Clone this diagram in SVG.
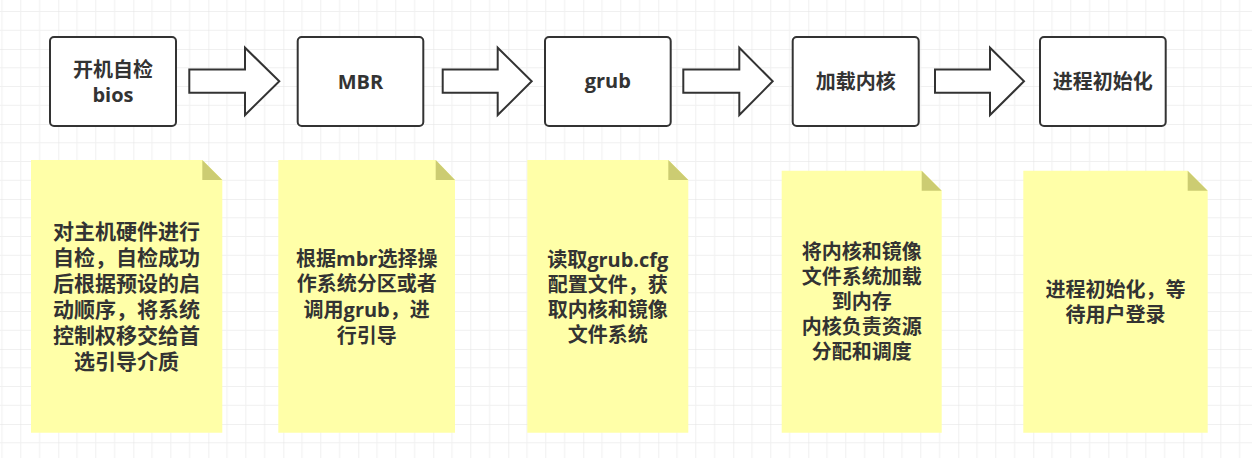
<svg xmlns="http://www.w3.org/2000/svg" width="1252" height="458" viewBox="0 0 1252 458">
<defs>
<pattern id="grid" patternUnits="userSpaceOnUse" x="58.3" y="49" width="75" height="75">
<path d="M18.75 0V75M37.5 0V75M56.25 0V75M0 18.75H75M0 37.5H75M0 56.25H75" stroke="#f0f0f0" stroke-width="1" fill="none"/>
<path d="M0 0V75M0 0H75" stroke="#e2e2e2" stroke-width="1" fill="none"/>
</pattern>
</defs>
<style>
.box{fill:#fff;stroke:#333;stroke-width:2}
.arr{fill:#fff;stroke:#333;stroke-width:2;stroke-linejoin:miter}
.note{fill:#ffffa8}
.fold{fill:#cccc72}
text{font-family:"Open Sans","Noto Sans CJK SC",sans-serif;font-weight:bold;fill:#333;text-anchor:middle}
.t{font-size:20px}
.n1{font-size:21px}
</style>
<rect width="1252" height="458" fill="#fff"/>
<rect width="1252" height="458" fill="url(#grid)"/>
<g id="connectors">
<polygon class="arr" points="189.3,69.5 245,69.5 245,47.7 279.3,81.3 245,115 245,92.7 189.3,92.7"/>
<polygon class="arr" points="442.7,69.5 497.7,69.5 497.7,47.7 531.7,81.3 497.7,115 497.7,92.7 442.7,92.7"/>
<polygon class="arr" points="683.3,69.5 739.3,69.5 739.3,47.7 772.7,81.3 739.3,115 739.3,92.7 683.3,92.7"/>
<polygon class="arr" points="935,69.5 990,69.5 990,47.7 1024,81.3 990,115 990,92.7 935,92.7"/>
</g>
<g id="node-bios">
<rect class="box" x="50" y="37" width="126" height="89" rx="4"/>
<text class="t" x="113"><tspan x="113" y="76.5">开机自检</tspan><tspan x="113" y="101.5">bios</tspan></text>
</g>
<g id="node-mbr">
<rect class="box" x="297.7" y="37" width="125.6" height="89" rx="4"/>
<text class="t" x="360.5" y="89">MBR</text>
</g>
<g id="node-grub">
<rect class="box" x="545" y="37" width="125.7" height="89" rx="4"/>
<text class="t" x="607.8" y="88">grub</text>
</g>
<g id="node-kernel">
<rect class="box" x="792.7" y="37" width="126" height="89" rx="4"/>
<text class="t" x="855.7" y="89">加载内核</text>
</g>
<g id="node-init">
<rect class="box" x="1040" y="37" width="125.7" height="89" rx="4"/>
<text class="t" x="1102.8" y="89">进程初始化</text>
</g>
<g id="note-bios">
<path class="note" d="M31 160H202.3L222.3 180V432.7H31Z"/>
<path class="fold" d="M202.3 160L222.3 180H202.3Z"/>
<text class="n1" x="126.6"><tspan x="126.6" y="239">对主机硬件进行</tspan><tspan x="126.6" y="265">自检，自检成功</tspan><tspan x="126.6" y="291">后根据预设的启</tspan><tspan x="126.6" y="317">动顺序，将系统</tspan><tspan x="126.6" y="343">控制权移交给首</tspan><tspan x="126.6" y="369">选引导介质</tspan></text>
</g>
<g id="note-mbr">
<path class="note" d="M278.3 160H435.7L455 180V432.7H278.3Z"/>
<path class="fold" d="M435.7 160L455 180H435.7Z"/>
<text class="t" x="366.7"><tspan x="366.7" y="265.5">根据mbr选择操</tspan><tspan x="366.7" y="291.3">作系统分区或者</tspan><tspan x="366.7" y="317">调用grub，进</tspan><tspan x="366.7" y="342.7">行引导</tspan></text>
</g>
<g id="note-grub">
<path class="note" d="M527.3 160H668.3L688.3 180V432.7H527.3Z"/>
<path class="fold" d="M668.3 160L688.3 180H668.3Z"/>
<text class="t" x="607.8"><tspan x="607.8" y="266.5">读取grub.cfg</tspan><tspan x="607.8" y="292">配置文件，获</tspan><tspan x="607.8" y="317">取内核和镜像</tspan><tspan x="607.8" y="341.5">文件系统</tspan></text>
</g>
<g id="note-kernel">
<path class="note" d="M781.7 170.7H921.7L941.7 190.7V432.7H781.7Z"/>
<path class="fold" d="M921.7 170.7L941.7 190.7H921.7Z"/>
<text class="t" x="861.7"><tspan x="861.7" y="258.7">将内核和镜像</tspan><tspan x="861.7" y="284.3">文件系统加载</tspan><tspan x="861.7" y="309.3">到内存</tspan><tspan x="861.7" y="334.3">内核负责资源</tspan><tspan x="861.7" y="359.3">分配和调度</tspan></text>
</g>
<g id="note-init">
<path class="note" d="M1023.3 170.7H1187.7L1207.7 190.7V432.7H1023.3Z"/>
<path class="fold" d="M1187.7 170.7L1207.7 190.7H1187.7Z"/>
<text class="t" x="1115.5"><tspan x="1115.5" y="296.5">进程初始化，等</tspan><tspan x="1115.5" y="322">待用户登录</tspan></text>
</g>
</svg>
